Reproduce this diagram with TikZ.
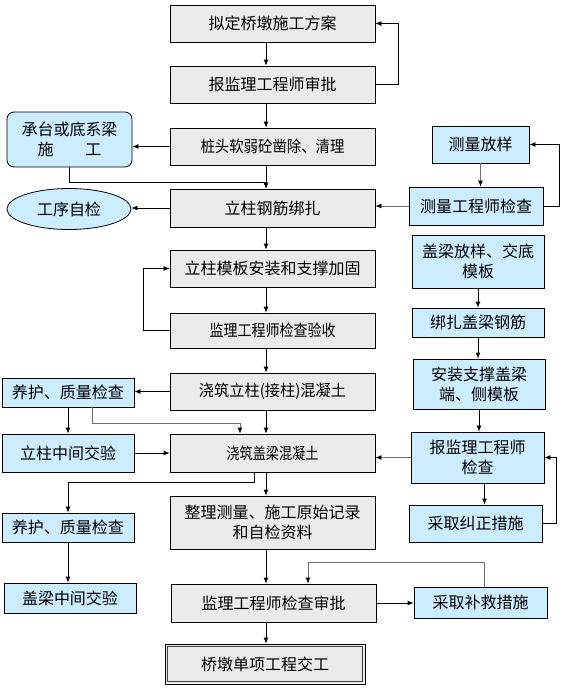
\documentclass[tikz,border=0pt]{standalone}
\usepackage{fontspec}
\setmainfont{Noto Sans CJK SC}
\usetikzlibrary{arrows.meta,shapes.geometric}
\definecolor{boxgray}{RGB}{234,234,234}
\definecolor{boxblue}{RGB}{204,236,255}
\definecolor{lngray}{RGB}{110,110,110}
\newcommand\nrw[2]{\scalebox{#1}[1]{#2}}
\tikzset{
  base/.style={draw=black, line width=0.8pt, inner sep=0pt, align=center, font=\fontsize{16}{20}\selectfont},
  gbox/.style={base, rectangle, fill=boxgray},
  bbox/.style={base, rectangle, fill=boxblue},
  arr/.style={draw=black, line width=0.8pt, -{Latex[length=6pt,width=5pt]}},
  garr/.style={draw=lngray, line width=0.8pt, -{Latex[length=6pt,width=5pt,color=black]}},
}
\begin{document}
\begin{tikzpicture}[x=1pt,y=-1pt]
\useasboundingbox (0,0) rectangle (562,699);
\coordinate (ax) at (266,0);
\coordinate (bx) at (240,0);
\coordinate (cx) at (254,0);
\coordinate (dx) at (308,0);
% main column
\node[gbox, minimum width=205, minimum height=37] (b1) at (272.5,23.5) {拟定桥墩施工方案};
\node[gbox, minimum width=205, minimum height=37] (b2) at (272.5,84.5) {报监理工程师审批};
\node[gbox, minimum width=205, minimum height=37] (b3) at (272.5,146.5) {\nrw{0.9}{桩头软弱砼凿除、清理}};
\node[gbox, minimum width=205, minimum height=38] (b4) at (272.5,208) {立柱钢筋绑扎};
\node[gbox, minimum width=205, minimum height=37] (b5) at (272.5,268.5) {立柱模板安装和支撑加固};
\node[gbox, minimum width=205, minimum height=35] (b6) at (272.5,330.5) {\nrw{0.875}{监理工程师检查验收}};
\node[gbox, minimum width=205, minimum height=37] (b7) at (272.5,391.5) {\nrw{0.95}{浇筑立柱(接柱)混凝土}};
\node[gbox, minimum width=205, minimum height=38] (b8) at (272.5,453) {\nrw{0.82}{浇筑盖梁混凝土}};
\node[gbox, minimum width=205, minimum height=53] (b9) at (272.5,522.5) {整理测量、施工原始记录\\和自检资料};
\node[gbox, minimum width=205, minimum height=38] (b10) at (273.5,603) {监理工程师检查审批};
\node[gbox, minimum width=200, minimum height=40] (b11) at (265,664) {桥墩单项工程交工};
\draw[line width=1.2pt, draw=black!75] ([shift={(3,3)}]b11.north west) rectangle ([shift={(-3,-3)}]b11.south east);
% left column
\node[bbox, rounded corners=7pt, minimum width=125, minimum height=55] (r1) at (69.5,139.5) {承台或底系梁\\施　　工};
\node[base, ellipse, fill=boxblue, minimum width=124, minimum height=41] (e1) at (69,209) {工序自检};
\node[bbox, minimum width=132, minimum height=29] (L1) at (68,392.5) {养护、质量检查};
\node[bbox, minimum width=132, minimum height=38] (L2) at (68,453) {立柱中间交验};
\node[bbox, minimum width=132, minimum height=29] (L3) at (68,527.5) {养护、质量检查};
\node[bbox, minimum width=132, minimum height=30] (L4) at (70,598) {盖梁中间交验};
% right column
\node[bbox, minimum width=97, minimum height=37] (R1) at (480.5,144.5) {测量放样};
\node[bbox, minimum width=134, minimum height=38] (R2) at (476,206) {测量工程师检查};
\node[bbox, minimum width=132, minimum height=53] (R3) at (478,261.5) {盖梁放样、交底\\模板};
\node[bbox, minimum width=132, minimum height=29] (R4) at (478,322.5) {绑扎盖梁钢筋};
\node[bbox, minimum width=132, minimum height=50] (R5) at (479,384) {安装支撑盖梁\\端、侧模板};
\node[bbox, minimum width=133, minimum height=51] (R6) at (477.5,457.5) {报监理工程师\\检查};
\node[bbox, minimum width=133, minimum height=37] (R7) at (475.5,523.5) {采取纠正措施};
\node[bbox, minimum width=133, minimum height=31] (R8) at (480.5,602.5) {采取补救措施};
% main vertical arrows
\draw[arr] (b1.south -| ax) -- (b2.north -| ax);
\draw[arr] (b2.south -| ax) -- (b3.north -| ax);
\draw[arr] (b3.south -| ax) -- (b4.north -| ax);
\draw[arr] (b4.south -| ax) -- (b5.north -| ax);
\draw[arr] (b5.south -| ax) -- (b6.north -| ax);
\draw[arr] (b6.south -| ax) -- (b7.north -| ax);
\draw[arr] (b7.south -| ax) -- (b8.north -| ax);
\draw[arr] (b8.south -| ax) -- (b9.north -| ax);
\draw[arr] (b9.south -| ax) -- (b10.north -| ax);
\draw[arr] (b10.south -| ax) -- (b11.north -| ax);
% loops and side links
\draw[arr] (b2.east) -- ++(23,0) |- (b1.east);
\draw[arr] (b3.west) -- (b3.west -| r1.east);
\draw[arr] (r1.south) -- ++(0,15) -| (b4.north -| ax);
\draw[arr] (b4.west) -- (b4.west -| e1.east);
\draw[garr] (R1.south) -- (R1.south |- R2.north);
\draw[arr] (R2.east) -- ++(16,0) |- (R1.east);
\draw[garr] (R2.west) -- (R2.west -| b4.east);
\draw[arr] (b6.west) -- ++(-26,0) |- (b5.west);
\draw[arr] (b7.west) -- (b7.west -| L1.east);
\draw[arr] (L1.south) -- (L2.north);
\draw[garr] ([xshift=24]L1.south) -- ++(0,16) -| (b8.north -| bx);
\draw[arr] (L2.east) -- (L2.east -| b8.west);
\draw[arr] (R3.south) -- (R3.south |- R4.north);
\draw[arr] (R4.south) -- (R4.south |- R5.north);
\draw[arr] (R5.south) -- (R5.south |- R6.north);
\draw[garr] (R6.west) -- (R6.west -| b8.east);
\draw[arr] ([xshift=7]R6.south) -- ([xshift=7]R6.south |- R7.north);
\draw[arr] (R7.east) -- ++(14,0) |- (R6.east);
\draw[arr] (b8.south -| cx) -- ++(0,10) -| (L3.north);
\draw[arr] (L3.south) -- (L3.south |- L4.north);
\draw[garr] ([xshift=3.5]R8.north) -- ++(0,-24) -| (b10.north -| dx);
\draw[arr] (b10.east) -- (b10.east -| R8.west);
\end{tikzpicture}
\end{document}
